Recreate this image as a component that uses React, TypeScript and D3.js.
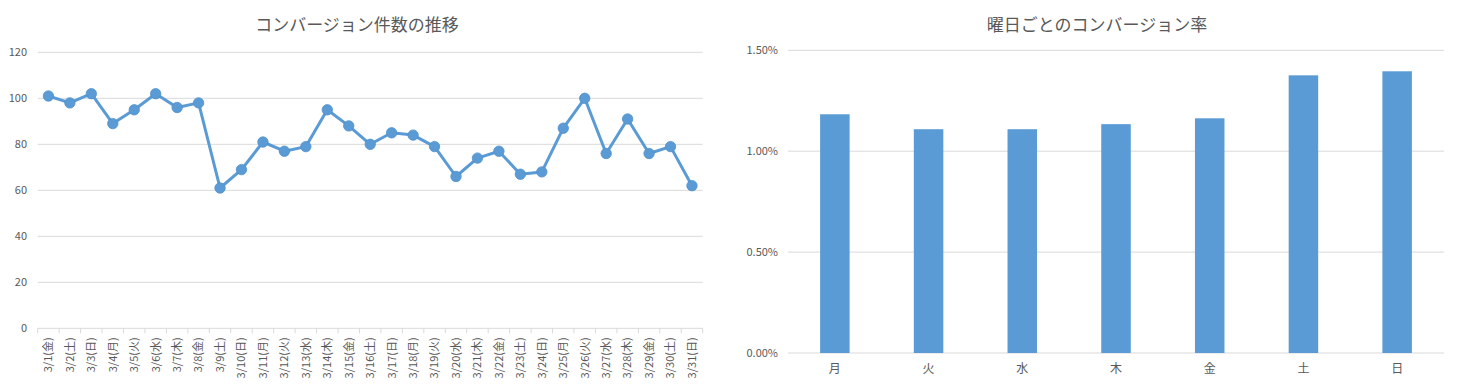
import React from "react";
import * as d3 from "d3";

const dates = [
  "3/1(金)", "3/2(土)", "3/3(日)", "3/4(月)", "3/5(火)", "3/6(水)", "3/7(木)", "3/8(金)",
  "3/9(土)", "3/10(日)", "3/11(月)", "3/12(火)", "3/13(水)", "3/14(木)", "3/15(金)", "3/16(土)",
  "3/17(日)", "3/18(月)", "3/19(火)", "3/20(水)", "3/21(木)", "3/22(金)", "3/23(土)", "3/24(日)",
  "3/25(月)", "3/26(火)", "3/27(水)", "3/28(木)", "3/29(金)", "3/30(土)", "3/31(日)",
];
const conversions = [
  101, 98, 102, 89, 95, 102, 96, 98, 61, 69, 81, 77, 79, 95, 88, 80,
  85, 84, 79, 66, 74, 77, 67, 68, 87, 100, 76, 91, 76, 79, 62,
];
const countTicks = [0, 20, 40, 60, 80, 100, 120];

const weekdays = ["月", "火", "水", "木", "金", "土", "日"];
const rates = [0.01183, 0.01109, 0.01109, 0.01134, 0.01163, 0.01376, 0.01396];
const rateTicks = [0, 0.005, 0.01, 0.015];

const FONT = "'Noto Sans CJK JP', 'Noto Sans', sans-serif";
const TEXT = "#595959";
const GRID = "#d9d9d9";
const BLUE = "#5b9bd5";

const LineChart: React.FC = () => {
  const left = 37.7, right = 702.7, top = 52.3, bottom = 328.3;
  const x = d3.scaleBand<string>().domain(dates).range([left, right]);
  const y = d3.scaleLinear().domain([0, 120]).range([bottom, top]);
  const pts = conversions.map((v, i) => [x(dates[i])! + x.bandwidth() / 2, y(v)] as [number, number]);
  const line = d3.line<[number, number]>().x(d => d[0]).y(d => d[1]);

  return (
    <g>
      <text x={357} y={31} textAnchor="middle" fontSize={17} fill={TEXT}>
        コンバージョン件数の推移
      </text>
      {countTicks.map(t => (
        <g key={t}>
          {t > 0 && <line x1={left} x2={right} y1={y(t)} y2={y(t)} stroke={GRID} strokeWidth={1} />}
          <text x={27} y={y(t)} dy="0.35em" textAnchor="end" fontSize={11} fill={TEXT}>{t}</text>
        </g>
      ))}
      <line x1={left} x2={right} y1={bottom} y2={bottom} stroke={GRID} strokeWidth={1} />
      {[...dates.map(d => x(d)!), right].map((px, i) => (
        <line key={i} x1={px} x2={px} y1={bottom} y2={bottom + 5} stroke={GRID} strokeWidth={1} />
      ))}
      {dates.map(d => {
        const cx = x(d)! + x.bandwidth() / 2;
        return (
          <text key={d} transform={`translate(${cx},${bottom + 9}) rotate(-90)`} dy="0.35em"
            textAnchor="end" fontSize={11} fill={TEXT}>{d}</text>
        );
      })}
      <path d={line(pts) || ""} fill="none" stroke={BLUE} strokeWidth={3} strokeLinejoin="round" />
      {pts.map((p, i) => (
        <circle key={i} cx={p[0]} cy={p[1]} r={5.2} fill={BLUE} stroke="#4f8fcc" strokeWidth={0.8} />
      ))}
    </g>
  );
};

const BarChart: React.FC = () => {
  const left = 788, right = 1444, top = 50.3, bottom = 353;
  const x = d3.scaleBand<string>().domain(weekdays).range([left, right]);
  const y = d3.scaleLinear().domain([0, 0.015]).range([bottom, top]);
  const barW = x.bandwidth() * 0.315;
  const fmt = d3.format(".2%");

  return (
    <g>
      <text x={1097} y={31} textAnchor="middle" fontSize={17} fill={TEXT}>
        曜日ごとのコンバージョン率
      </text>
      {rateTicks.map(t => (
        <g key={t}>
          <line x1={left} x2={right} y1={y(t)} y2={y(t)} stroke={GRID} strokeWidth={1} />
          <text x={778} y={y(t)} dy="0.35em" textAnchor="end" fontSize={11} fill={TEXT}>{fmt(t)}</text>
        </g>
      ))}
      {weekdays.map((d, i) => {
        const cx = x(d)! + x.bandwidth() / 2;
        return (
          <g key={d}>
            <rect x={cx - barW / 2} y={y(rates[i])} width={barW} height={bottom - y(rates[i])} fill={BLUE} />
            <text x={cx} y={369} dy="0.35em" textAnchor="middle" fontSize={12} fill={TEXT}>{d}</text>
          </g>
        );
      })}
    </g>
  );
};

const App: React.FC = () => (
  <div style={{ position: "absolute", left: 0, top: 0 }}>
    <svg width={1458} height={387} style={{ display: "block", background: "#fff", fontFamily: FONT }}>
      <rect width={1458} height={387} fill="#fff" />
      <LineChart />
      <BarChart />
    </svg>
  </div>
);

export default App;
